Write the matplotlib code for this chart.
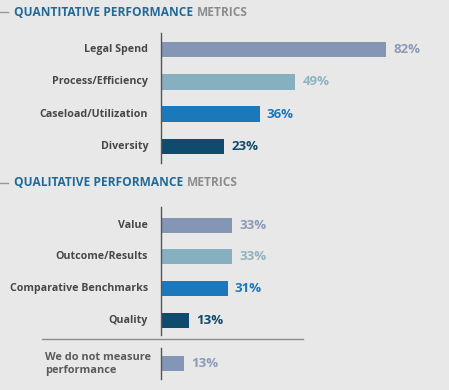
import matplotlib.pyplot as plt
from matplotlib.lines import Line2D

# ---- data ----
quant_labels = ["Legal Spend", "Process/Efficiency", "Caseload/Utilization", "Diversity"]
quant_values = [82, 49, 36, 23]
qual_labels = ["Value", "Outcome/Results", "Comparative Benchmarks", "Quality"]
qual_values = [33, 33, 31, 13]
none_label = "We do not measure\nperformance"
none_value = [13]

bar_colors = ["#8496b6", "#86b0bf", "#1b78bb", "#0f4b6c"]
val_colors = ["#8a9bb8", "#8fb3c0", "#1b78bb", "#0f4b6c"]

W, H = 449, 390
BG = "#e8e8e8"
fig = plt.figure(figsize=(W / 100, H / 100), dpi=100, facecolor=BG)
plt.rcParams['font.family'] = ['Open Sans', 'DejaVu Sans']


def add_ax(x0, y_top, y_bot, x1=449):
    return fig.add_axes([x0 / W, 1 - y_bot / H, (x1 - x0) / W, (y_bot - y_top) / H])


def style(ax):
    ax.set_facecolor("none")
    for s in ["top", "right", "bottom"]:
        ax.spines[s].set_visible(False)
    ax.spines["left"].set_color("#555555")
    ax.spines["left"].set_linewidth(1.0)
    ax.set_xticks([])
    ax.set_yticks([])


def draw(ax, labels, values, colors, vcolors, px_per_unit, ylim, height):
    style(ax)
    ax.set_xlim(0, (449 - 161) / px_per_unit)
    ax.set_ylim(*ylim)
    ypos = list(range(len(values)))
    ax.barh(ypos, values, height=height, color=colors)
    for y, v, lab, vc in zip(ypos, values, labels, vcolors):
        ax.annotate(f"{v}%", xy=(v, y), xytext=(7, 0), textcoords="offset pixels",
                    ha="left", va="center", fontsize=9.5, fontweight="bold", color=vc)
        if lab is not None:
            ax.annotate(lab, xy=(0, y), xytext=(-13, 0), textcoords="offset pixels",
                        ha="right", va="center", fontsize=7.7, fontweight="bold",
                        color="#474747")


ax1 = add_ax(161, 33, 163)
draw(ax1, quant_labels, quant_values, bar_colors, val_colors, 2.744, (3.53, -0.53), 0.47)

ax2 = add_ax(161, 207, 335)
draw(ax2, qual_labels, qual_values, bar_colors, val_colors, 2.15, (3.47, -0.57), 0.47)

ax3 = add_ax(161, 348, 379)
draw(ax3, [None], none_value, [bar_colors[0]], [val_colors[0]], 1.77, (1.0, -1.0), 0.97)
fig.text(45 / W, 1 - 364 / H, none_label, ha="left", va="center", fontsize=7.9,
         fontweight="bold", color="#5a5a5a", linespacing=1.2)

# separator line
fig.add_artist(Line2D([42 / W, 303 / W], [1 - 339 / H, 1 - 339 / H], color="#8a8a8a", lw=1.0))


def header(y, blue, gray):
    fig.add_artist(Line2D([0, 8 / W], [1 - y / H, 1 - y / H], color="#999999", lw=1.0))
    t = fig.text(14 / W, 1 - y / H, blue, ha="left", va="center", fontsize=8.6,
                 fontweight="bold", color="#1f6a99")
    fig.canvas.draw()
    bb = t.get_window_extent()
    fig.text((bb.x1 + 4) / W, 1 - y / H, gray, ha="left", va="center", fontsize=8.6,
             fontweight="bold", color="#8c8c8c")


header(12, "QUANTITATIVE PERFORMANCE", "METRICS")
header(183, "QUALITATIVE PERFORMANCE", "METRICS")

fig.savefig("out.png", dpi=100, facecolor=BG)
